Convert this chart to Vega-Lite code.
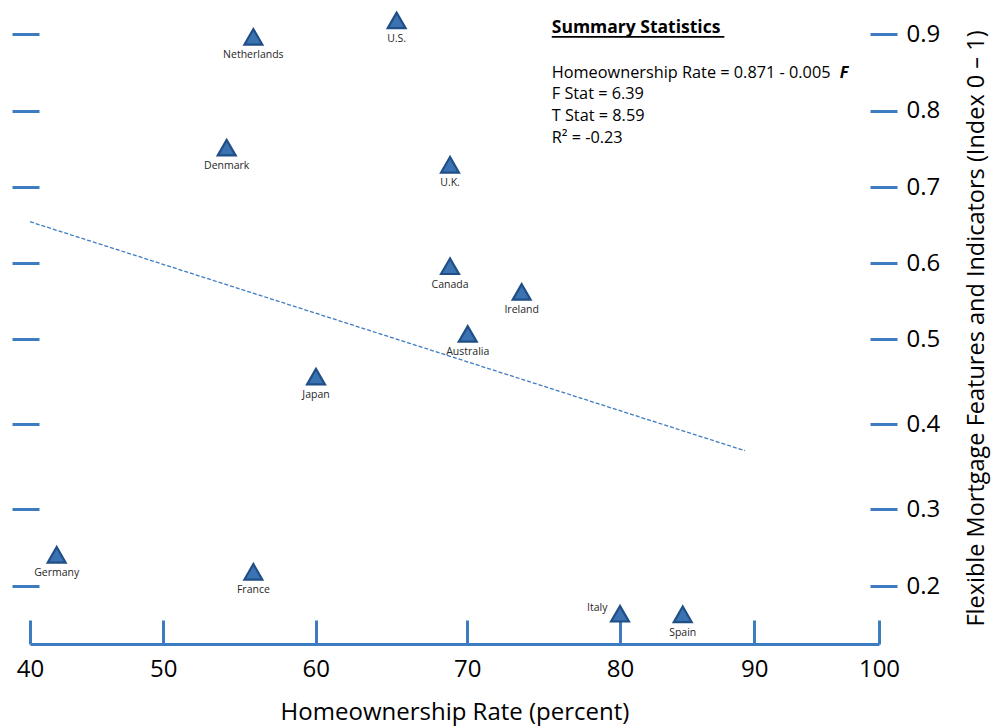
{
  "$schema": "https://vega.github.io/schema/vega-lite/v6.json",
  "width": 879,
  "height": 644,
  "autosize": {"type": "none"},
  "padding": {"left": 0, "top": 0, "right": 113, "bottom": 83},
  "background": "white",
  "config": {"view": {"stroke": null}, "font": "Open Sans", "axis": {"grid": false}},
  "datasets": {
    "countries": [
      {"country": "U.S.", "rate": 65.34, "flex": 0.9182},
      {"country": "Netherlands", "rate": 55.91, "flex": 0.8967},
      {"country": "Denmark", "rate": 54.16, "flex": 0.7516},
      {"country": "U.K.", "rate": 68.86, "flex": 0.7291},
      {"country": "Canada", "rate": 68.86, "flex": 0.5961},
      {"country": "Ireland", "rate": 73.56, "flex": 0.5624},
      {"country": "Australia", "rate": 70.03, "flex": 0.5071},
      {"country": "Japan", "rate": 60.02, "flex": 0.4561},
      {"country": "Germany", "rate": 42.0, "flex": 0.2407},
      {"country": "France", "rate": 55.91, "flex": 0.2185},
      {"country": "Italy", "rate": 80.0, "flex": 0.1638},
      {"country": "Spain", "rate": 84.67, "flex": 0.1631}
    ],
    "trend": [
      {"rate": 40.0, "flex": 0.6545},
      {"rate": 89.31, "flex": 0.3689}
    ],
    "notes": [
      {"kind": "head", "rate": 75.53, "flex": 0.9079, "label": "Summary Statistics"},
      {"kind": "body", "rate": 75.53, "flex": 0.849, "label": "Homeownership Rate = 0.871 - 0.005"},
      {"kind": "body", "rate": 75.53, "flex": 0.8215, "label": "F Stat = 6.39"},
      {"kind": "body", "rate": 75.53, "flex": 0.7931, "label": "T Stat = 8.59"},
      {"kind": "body", "rate": 75.53, "flex": 0.7646, "label": "R² = -0.23"},
      {"kind": "var", "rate": 96.85, "flex": 0.849, "label": "F"}
    ],
    "underline": [
      {"rate": 75.53, "rate2": 87.77, "flex": 0.8965}
    ]
  },
  "encoding": {
    "x": {
      "field": "rate",
      "type": "quantitative",
      "scale": {"domain": [40, 50, 60, 70, 80, 90, 100], "range": [30, 163.3, 315.7, 467.3, 620, 754.3, 879], "nice": false, "zero": false},
      "axis": {
        "values": [40, 50, 60, 70, 80, 90, 100],
        "title": "Homeownership Rate (percent)",
        "domainColor": "#3e7cc1", "domainWidth": 3,
        "tickColor": "#3e7cc1", "tickWidth": 3, "tickSize": -24,
        "labelFontSize": 24, "labelColor": "#000", "labelPadding": 37,
        "labelFlush": false, "labelOverlap": false,
        "titleFontSize": 24, "titleFontWeight": "normal", "titleColor": "#000", "titlePadding": 19,
        "grid": false
      }
    }
  },
  "layer": [
    {
      "data": {"name": "trend"},
      "mark": {"type": "line", "color": "#3e7cc1", "strokeWidth": 1.3, "strokeDash": [4, 2]},
      "encoding": {
        "y": {
          "field": "flex", "type": "quantitative",
          "scale": {"domain": [0.2, 0.3, 0.4, 0.5, 0.6, 0.7, 0.8, 0.9], "range": [586, 509.3, 424.3, 339.3, 263.3, 187, 110.7, 34.3], "nice": false, "zero": false},
          "axis": {
            "orient": "left", "values": [0.2, 0.3, 0.4, 0.5, 0.6, 0.7, 0.8, 0.9],
            "labels": false, "domain": false, "title": null, "grid": false,
            "offset": -39, "tickSize": 27, "tickWidth": 3, "tickColor": "#3e7cc1"
          }
        }
      }
    },
    {
      "data": {"name": "countries"},
      "mark": {"type": "point", "shape": "triangle-up", "filled": true, "size": 320, "fill": "#3b72b2", "stroke": "#1f4f86", "strokeWidth": 2.2, "opacity": 1},
      "encoding": {
        "y": {
          "field": "flex", "type": "quantitative",
          "scale": {"domain": [0.2, 0.3, 0.4, 0.5, 0.6, 0.7, 0.8, 0.9], "range": [586, 509.3, 424.3, 339.3, 263.3, 187, 110.7, 34.3], "nice": false, "zero": false},
          "axis": {
            "orient": "right", "values": [0.2, 0.3, 0.4, 0.5, 0.6, 0.7, 0.8, 0.9],
            "format": ".1f", "domain": false, "grid": false,
            "offset": -9, "tickSize": 27, "tickWidth": 3, "tickColor": "#3e7cc1",
            "labelFontSize": 24, "labelColor": "#000", "labelPadding": 9,
            "title": "Flexible Mortgage Features and Indicators (Index 0 – 1)",
            "titleFontSize": 23.5, "titleFontWeight": "normal", "titleColor": "#000",
            "titleAngle": 270, "titlePadding": 49, "titleY": 328
          }
        }
      }
    },
    {
      "data": {"name": "countries"},
      "transform": [{"filter": "datum.country !== 'Italy'"}],
      "mark": {"type": "text", "fontSize": 10.5, "dy": 18.5, "baseline": "middle", "align": "center", "color": "#262626"},
      "encoding": {
        "y": {"field": "flex", "type": "quantitative", "axis": null,
              "scale": {"domain": [0.2, 0.3, 0.4, 0.5, 0.6, 0.7, 0.8, 0.9], "range": [586, 509.3, 424.3, 339.3, 263.3, 187, 110.7, 34.3], "nice": false, "zero": false}},
        "text": {"field": "country"}
      }
    },
    {
      "data": {"name": "countries"},
      "transform": [{"filter": "datum.country === 'Italy'"}],
      "mark": {"type": "text", "fontSize": 10.5, "dx": -22.7, "dy": -6, "baseline": "middle", "align": "center", "color": "#262626"},
      "encoding": {
        "y": {"field": "flex", "type": "quantitative", "axis": null,
              "scale": {"domain": [0.2, 0.3, 0.4, 0.5, 0.6, 0.7, 0.8, 0.9], "range": [586, 509.3, 424.3, 339.3, 263.3, 187, 110.7, 34.3], "nice": false, "zero": false}},
        "text": {"field": "country"}
      }
    },
    {
      "data": {"name": "notes"},
      "transform": [{"filter": "datum.kind === 'head'"}],
      "mark": {"type": "text", "fontSize": 17.5, "fontWeight": "bold", "baseline": "middle", "align": "left", "color": "#000"},
      "encoding": {
        "y": {"field": "flex", "type": "quantitative", "axis": null,
              "scale": {"domain": [0.2, 0.3, 0.4, 0.5, 0.6, 0.7, 0.8, 0.9], "range": [586, 509.3, 424.3, 339.3, 263.3, 187, 110.7, 34.3], "nice": false, "zero": false}},
        "text": {"field": "label"}
      }
    },
    {
      "data": {"name": "notes"},
      "transform": [{"filter": "datum.kind === 'body'"}],
      "mark": {"type": "text", "fontSize": 16.3, "baseline": "middle", "align": "left", "color": "#000"},
      "encoding": {
        "y": {"field": "flex", "type": "quantitative", "axis": null,
              "scale": {"domain": [0.2, 0.3, 0.4, 0.5, 0.6, 0.7, 0.8, 0.9], "range": [586, 509.3, 424.3, 339.3, 263.3, 187, 110.7, 34.3], "nice": false, "zero": false}},
        "text": {"field": "label"}
      }
    },
    {
      "data": {"name": "notes"},
      "transform": [{"filter": "datum.kind === 'var'"}],
      "mark": {"type": "text", "fontSize": 16.3, "fontWeight": "bold", "fontStyle": "italic", "baseline": "middle", "align": "left", "color": "#000"},
      "encoding": {
        "y": {"field": "flex", "type": "quantitative", "axis": null,
              "scale": {"domain": [0.2, 0.3, 0.4, 0.5, 0.6, 0.7, 0.8, 0.9], "range": [586, 509.3, 424.3, 339.3, 263.3, 187, 110.7, 34.3], "nice": false, "zero": false}},
        "text": {"field": "label"}
      }
    },
    {
      "data": {"name": "underline"},
      "mark": {"type": "rule", "color": "#000", "strokeWidth": 1.8},
      "encoding": {
        "x2": {"field": "rate2"},
        "y": {"field": "flex", "type": "quantitative", "axis": null,
              "scale": {"domain": [0.2, 0.3, 0.4, 0.5, 0.6, 0.7, 0.8, 0.9], "range": [586, 509.3, 424.3, 339.3, 263.3, 187, 110.7, 34.3], "nice": false, "zero": false}}
      }
    }
  ],
  "resolve": {"axis": {"y": "independent"}}
}
